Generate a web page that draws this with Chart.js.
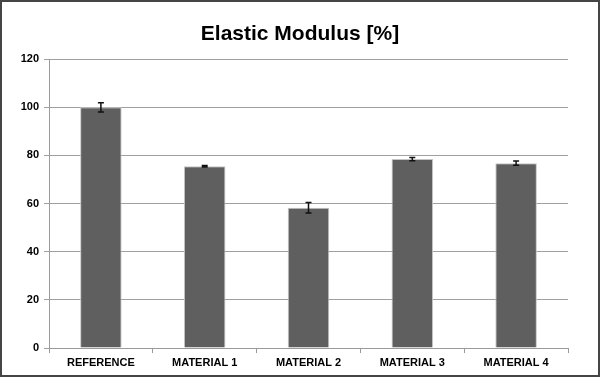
<!DOCTYPE html>
<html>
<head>
<meta charset="utf-8">
<script src="https://cdn.jsdelivr.net/npm/chart.js@4/dist/chart.umd.min.js"></script>
<style>
  html, body { margin: 0; padding: 0; background: #ffffff; }
  #wrap { position: relative; width: 600px; height: 377px; }
  #c { position: absolute; left: 0; top: 0; }
  #frame { position: absolute; left: 0; top: 0; width: 600px; height: 377px; box-sizing: border-box; border: 2px solid #454545; pointer-events: none; }
</style>
</head>
<body>
<div id="wrap">
  <canvas id="c" width="600" height="377"></canvas>
  <div id="frame"></div>
</div>
<script>
const categories = ["REFERENCE", "MATERIAL 1", "MATERIAL 2", "MATERIAL 3", "MATERIAL 4"];
const modulusValues = [100, 75.5, 58.3, 78.5, 76.8];
const modulusErrors = [1.9, 0.3, 2.2, 0.7, 0.9];
const yTicks = [0, 20, 40, 60, 80, 100, 120];
const chartTitle = "Elastic Modulus [%]";

const FONT = "'Liberation Sans', Arial, sans-serif";

const errorBarPlugin = {
  id: 'errorBars',
  afterDatasetsDraw(chart) {
    const ctx = chart.ctx;
    const meta = chart.getDatasetMeta(0);
    const yScale = chart.scales.y;
    ctx.save();
    ctx.strokeStyle = '#111111';
    ctx.lineWidth = 1.5;
    meta.data.forEach((bar, i) => {
      const v = modulusValues[i];
      const e = modulusErrors[i];
      const x = bar.x;
      const yHi = yScale.getPixelForValue(v + e);
      const yLo = yScale.getPixelForValue(v - e);
      const cap = 3;
      ctx.beginPath();
      ctx.moveTo(x, yHi); ctx.lineTo(x, yLo);
      ctx.moveTo(x - cap, yHi); ctx.lineTo(x + cap, yHi);
      ctx.moveTo(x - cap, yLo); ctx.lineTo(x + cap, yLo);
      ctx.stroke();
    });
    ctx.restore();
  }
};

new Chart(document.getElementById('c'), {
  type: 'bar',
  data: {
    labels: categories,
    datasets: [{
      data: modulusValues,
      backgroundColor: '#5f5f5f',
      borderColor: '#c4c4c4',
      borderWidth: 1,
      barPercentage: 0.4,
      categoryPercentage: 1.0
    }]
  },
  options: {
    responsive: false,
    animation: false,
    devicePixelRatio: 1,
    layout: { padding: 0 },
    plugins: {
      legend: { display: false },
      tooltip: { enabled: false },
      title: {
        display: true,
        text: chartTitle,
        color: '#000000',
        font: { family: FONT, size: 21, weight: 'bold', lineHeight: 1.2 },
        padding: { top: 22, bottom: 12 }
      }
    },
    scales: {
      x: {
        offset: true,
        afterFit(scale) { scale.height = 29; },
        grid: {
          display: true,
          drawOnChartArea: false,
          offset: true,
          tickLength: 5,
          color: '#9a9a9a'
        },
        border: { display: true, color: '#9a9a9a', width: 1 },
        ticks: {
          color: '#000000',
          font: { family: FONT, size: 11, weight: 'bold' },
          padding: 3,
          maxRotation: 0,
          autoSkip: false
        }
      },
      y: {
        min: yTicks[0],
        max: yTicks[yTicks.length - 1],
        afterFit(scale) { scale.width = 49; },
        afterBuildTicks(scale) { scale.ticks = yTicks.map(v => ({ value: v })); },
        grid: {
          color: '#a0a0a0',
          lineWidth: 1,
          tickLength: 5
        },
        border: { display: true, color: '#9a9a9a', width: 1 },
        ticks: {
          color: '#000000',
          font: { family: FONT, size: 11, weight: 'bold' },
          padding: 5
        }
      },
      yRightSpace: {
        position: 'right',
        min: yTicks[0],
        max: yTicks[yTicks.length - 1],
        afterFit(scale) { scale.width = 32; },
        grid: { display: false, drawOnChartArea: false },
        border: { display: false },
        ticks: { display: false }
      }
    }
  },
  plugins: [errorBarPlugin]
});
</script>
</body>
</html>
